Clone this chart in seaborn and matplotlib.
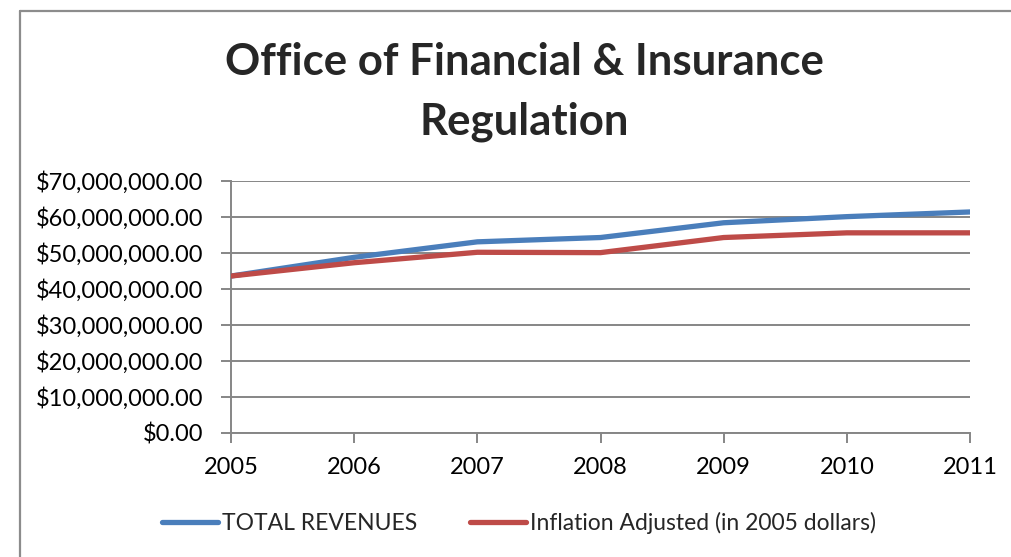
import numpy as np
import pandas as pd
import seaborn as sns
import matplotlib.pyplot as plt
from matplotlib.lines import Line2D
from matplotlib.ticker import FuncFormatter

# Dados
anos = [2005, 2006, 2007, 2008, 2009, 2010, 2011]
receitas_totais = [43.6e6, 48.8e6, 53.1e6, 54.3e6, 58.4e6, 60.1e6, 61.4e6]
ajustado_inflacao = [43.6e6, 47.3e6, 50.2e6, 50.1e6, 54.3e6, 55.6e6, 55.6e6]
nomes_series = ['TOTAL REVENUES', 'Inflation Adjusted (in 2005 dollars)']
titulo_linhas = ['Office of Financial & Insurance', 'Regulation']

df = pd.DataFrame({
    'Ano': anos * 2,
    'Valor': receitas_totais + ajustado_inflacao,
    'Serie': [nomes_series[0]] * len(anos) + [nomes_series[1]] * len(anos),
})

sns.set_theme(style='white')
plt.rcParams['font.family'] = ['Lato', 'DejaVu Sans']

W, H = 1011, 557
fig = plt.figure(figsize=(W / 100, H / 100), dpi=100)

# moldura do gráfico (só lados de cima e esquerdo aparecem)
x_borda, y_borda = 19.5 / W, 1 - 10.7 / H
fig.add_artist(Line2D([x_borda, 1.05], [y_borda, y_borda], transform=fig.transFigure,
                      color='#8c8c8c', linewidth=1.6))
fig.add_artist(Line2D([x_borda, x_borda], [y_borda, -0.05], transform=fig.transFigure,
                      color='#8c8c8c', linewidth=1.6))

ax = fig.add_axes([231 / W, 1 - 433 / H, (970 - 231) / W, (433 - 181) / H])
cores = {nomes_series[0]: '#4A7EBB', nomes_series[1]: '#BE4B48'}
sns.lineplot(data=df, x='Ano', y='Valor', hue='Serie', palette=cores, linewidth=3.8,
             ax=ax, legend=False, zorder=3)

ax.set_xlim(2005, 2011)
ax.set_ylim(0, 70e6)
ax.set_xticks(anos)
ax.set_yticks(np.arange(0, 70e6 + 1, 10e6))
ax.yaxis.set_major_formatter(FuncFormatter(lambda v, p: f'${v:,.2f}'))
ax.set_xlabel('')
ax.set_ylabel('')
ax.grid(axis='y', color='#868686', linewidth=1.4)
ax.set_axisbelow(True)
for lado in ['top', 'right']:
    ax.spines[lado].set_visible(False)
for lado in ['left', 'bottom']:
    ax.spines[lado].set_color('#868686')
    ax.spines[lado].set_linewidth(1.4)
ax.tick_params(axis='both', which='major', direction='out', length=7, width=1.4,
               color='#868686', labelsize=17, labelcolor='black')
ax.tick_params(axis='x', pad=10)
ax.tick_params(axis='y', pad=12.7)
ax.tick_params(left=True, bottom=True)

linhas = [Line2D([], [], color=cores[n], linewidth=3.8, solid_capstyle='round') for n in nomes_series]
fig.legend(linhas, nomes_series, loc='center', bbox_to_anchor=(519 / W, 1 - 523 / H),
           ncol=2, frameon=False, fontsize=16.5, handlelength=2.45, handletextpad=0.17,
           columnspacing=2.3)

fig.text(524 / W, 1 - 62 / H, titulo_linhas[0], ha='center', va='center',
         fontsize=31.5, fontweight='bold')
fig.text(524 / W, 1 - 122 / H, titulo_linhas[1], ha='center', va='center',
         fontsize=31.5, fontweight='bold')

fig.savefig('out.png', dpi=100)
